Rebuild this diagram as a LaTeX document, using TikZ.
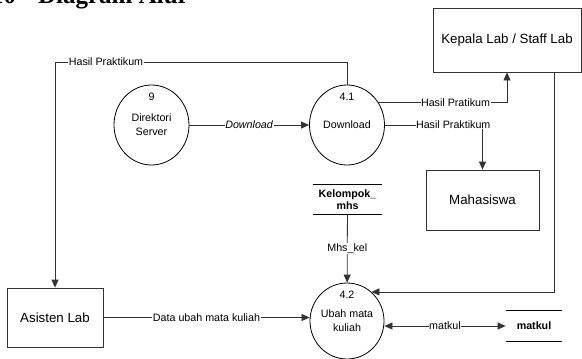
\documentclass[tikz,border=0pt]{standalone}
\usepackage{fontspec}
\setmainfont{Liberation Sans}
\newfontfamily\headfont{Liberation Serif}
\usetikzlibrary{calc}
\usetikzlibrary{arrows.meta}
\usetikzlibrary{shapes.geometric}
\colorlet{flowln}{black!80}
\tikzset{dfd/.style={
  x=1pt,
  y=-1pt,
  line width=0.8pt,
  font=\fontsize{10.7}{14}\selectfont
}}
\tikzset{ent/.style={
  draw=flowln,
  shape=rectangle,
  font=\fontsize{13.3}{16}\selectfont
}}
\tikzset{prc/.style={
  draw,
  shape=ellipse,
  minimum width=75pt,
  minimum height=80pt,
  inner sep=0pt,
  align=center
}}
\tikzset{num/.style={anchor=center,yshift=-12pt}}
\tikzset{dst/.style={
  minimum height=29pt,
  inner sep=0pt,
  align=center,
  font=\fontsize{10.7}{12}\selectfont\bfseries,
  append after command={
    (\tikzlastnode.north west) edge (\tikzlastnode.north east)
    (\tikzlastnode.south west) edge (\tikzlastnode.south east)
  }
}}
\tikzset{flw/.style={
  draw=flowln,
  -{Triangle[length=8pt,width=7pt]}
}}
\tikzset{biflw/.style={
  flw,
  {Triangle[length=8pt,width=7pt]}-{Triangle[length=8pt,width=7pt]}
}}
\tikzset{lbl/.style={
  fill=white,
  inner sep=0.5pt,
  text=black
}}

\begin{document}
\begin{tikzpicture}[dfd]

    %% Frame
    \useasboundingbox (0,0) rectangle (582,359);
    \clip (0,0) rectangle (582,359);

    % Heading, cut off at the top
    \node[anchor=base west,inner sep=0pt,
      font=\fontsize{25}{30}\selectfont\headfont\bfseries]
      (ttl) at (-28,3) {4.10\hspace{22pt}Diagram Alur};

    %% Entities
    \node[ent,minimum width=148pt,minimum height=64pt] (kep) at (507,40) {Kepala Lab / Staff Lab};
    \node[ent,minimum width=113pt,minimum height=60pt] (mhs) at (482.5,200) {Mahasiswa};
    \node[ent,minimum width=96pt,minimum height=59pt] (ast) at (55,317.5) {Asisten Lab};

    %% Processes
    \node[prc,label={[num]north:9}] (p9) at (151.5,125) {Direktori\\Server};
    \node[prc,label={[num]north:4.1}] (p41) at (347,125) {Download};
    \node[prc,minimum width=74pt,minimum height=76pt,
      label={[num]north:4.2}] (p42) at (347,321) {Ubah mata\\kuliah};

    %% Data stores
    \node[dst,minimum width=69pt] (kel) at (347.5,199.5) {Kelompok\_\\mhs};
    \node[dst,minimum width=56pt,minimum height=30pt] (mat) at (534,326) {matkul};

    %% Flows
    \coordinate (c1) at (55,62);
    \coordinate (c2) at (554,72);

    % Top
    \draw[flw] (p9) -- (p41) node[lbl,pos=.5] {\textit{Download}};
    \draw[flw] (p41.north) |- (c1) -- (ast.north);
    \node[lbl] (l1) at (106,62) {Hasil Praktikum};
    \draw[flw] (p41.36) -| (kep.south) node[lbl,pos=.3] {Hasil Pratikum};
    \draw[flw] (p41.east) -| (mhs.north) node[lbl,pos=.35] {Hasil Praktikum};

    % Bottom
    \draw[flw] (c2) |- (p42.50);
    \draw[flw] (kel) -- (p42) node[lbl,pos=.5] {Mhs\_kel};
    \draw[flw] (ast.east) -- (ast.east -| p42.west)
      node[lbl,pos=.5] {Data ubah mata kuliah};
    \draw[biflw] (mat.west -| p42.east) -- (mat.west)
      node[lbl,pos=.5] {matkul};

  \end{tikzpicture}
\end{document}
